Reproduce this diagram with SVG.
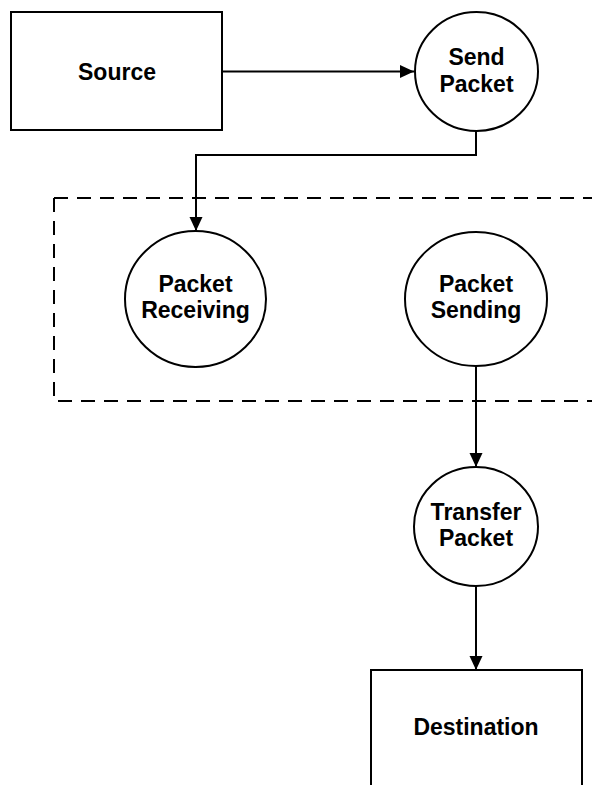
<svg xmlns="http://www.w3.org/2000/svg" width="592" height="785" viewBox="0 0 592 785">
  <style>
    .shape { fill: #ffffff; stroke: #000000; stroke-width: 2; }
    .group-box { fill: none; stroke: #000000; stroke-width: 2; stroke-dasharray: 14 9; }
    .link { fill: none; stroke: #000000; stroke-width: 2; }
    .label { font-family: "Liberation Sans", Arial, sans-serif; font-weight: bold; font-size: 23px; fill: #000000; text-anchor: middle; }
  </style>
  <defs>
    <marker id="arrow" markerUnits="userSpaceOnUse" markerWidth="16" markerHeight="14" refX="14" refY="6.5" orient="auto">
      <polygon points="0,0 14,6.5 0,13" fill="#000000"/>
    </marker>
  </defs>

  <rect width="592" height="785" fill="#ffffff"/>

  <!-- dashed grouping frame around the relay stage -->
  <path class="group-box" d="M 54 198 L 600 198 M 54 198 L 54 401 L 600 401"/>

  <!-- connectors -->
  <g id="connectors">
    <line class="link" x1="222" y1="71.5" x2="414" y2="71.5" marker-end="url(#arrow)"/>
    <polyline class="link" points="476,131 476,155 196,155 196,231" marker-end="url(#arrow)"/>
    <line class="link" x1="476" y1="366" x2="476" y2="467" marker-end="url(#arrow)"/>
    <line class="link" x1="476" y1="586" x2="476" y2="670" marker-end="url(#arrow)"/>
  </g>

  <g id="source">
    <rect class="shape" x="11" y="12" width="211" height="118"/>
    <text class="label" x="117" y="80">Source</text>
  </g>

  <g id="send-packet">
    <ellipse class="shape" cx="476.5" cy="71.5" rx="61.5" ry="59.5"/>
    <text class="label" x="476.5" y="65">Send</text>
    <text class="label" x="476.5" y="91.5">Packet</text>
  </g>

  <g id="packet-receiving">
    <ellipse class="shape" cx="195.5" cy="299" rx="70.5" ry="68"/>
    <text class="label" x="195.5" y="291.5">Packet</text>
    <text class="label" x="195.5" y="318">Receiving</text>
  </g>

  <g id="packet-sending">
    <ellipse class="shape" cx="476" cy="299" rx="71" ry="67"/>
    <text class="label" x="476" y="291.5">Packet</text>
    <text class="label" x="476" y="318">Sending</text>
  </g>

  <g id="transfer-packet">
    <ellipse class="shape" cx="476" cy="526.5" rx="62" ry="59.5"/>
    <text class="label" x="476" y="520">Transfer</text>
    <text class="label" x="476" y="546">Packet</text>
  </g>

  <g id="destination">
    <rect class="shape" x="371" y="670" width="211" height="130"/>
    <text class="label" x="476" y="735">Destination</text>
  </g>
</svg>
